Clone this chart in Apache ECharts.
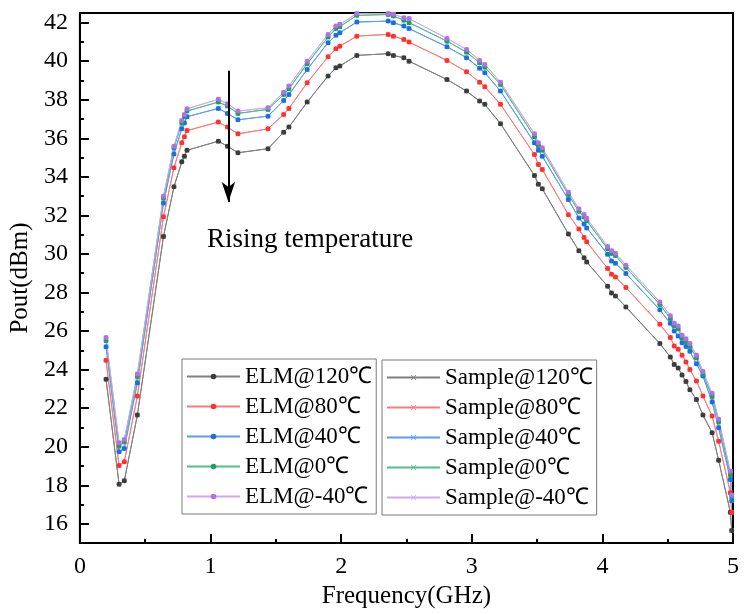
<!DOCTYPE html>
<html>
<head>
<meta charset="utf-8">
<script src="https://cdn.jsdelivr.net/npm/echarts@6/dist/echarts.min.js"></script>
<style>
html,body{margin:0;padding:0;background:#fff;}
#main{width:750px;height:614px;}
</style>
</head>
<body>
<div id="main"></div>
<script>
// Frequency points (GHz)
var freq = [0.20,0.30,0.34,0.44,0.64,0.72,0.78,0.80,0.82,1.06,1.13,1.21,1.44,1.56,1.60,1.74,1.90,1.96,1.99,2.12,2.36,2.40,2.48,2.52,2.81,2.96,3.06,3.10,3.22,3.48,3.51,3.54,3.74,3.82,3.86,3.88,4.04,4.07,4.10,4.18,4.44,4.52,4.55,4.58,4.61,4.64,4.67,4.72,4.77,4.84,4.89,4.98,4.99];

var elm120 = [23.50,18.05,18.23,21.64,30.91,33.48,34.78,35.07,35.38,35.85,35.59,35.25,35.46,36.32,36.58,37.88,39.23,39.66,39.75,40.30,40.39,40.30,40.18,40.00,39.05,38.45,37.93,37.76,36.76,34.07,33.62,33.38,31.04,30.17,29.80,29.58,28.33,27.98,27.82,27.25,25.35,24.66,24.27,24.08,23.72,23.38,22.95,22.45,21.64,20.73,19.30,16.60,15.65];
var elm80 = [24.48,19.03,19.22,22.63,31.93,34.47,35.77,36.08,36.40,36.84,36.58,36.23,36.49,37.24,37.55,38.88,40.23,40.65,40.78,41.30,41.39,41.30,41.13,40.99,40.04,39.45,38.91,38.68,37.76,35.16,34.64,34.38,32.04,31.29,30.86,30.63,29.25,28.95,28.81,28.26,26.35,25.66,25.23,25.05,24.75,24.40,24.00,23.41,22.63,21.59,20.29,17.61,16.60];
var elm40 = [25.19,19.74,19.91,23.32,32.64,35.19,36.49,36.80,37.12,37.55,37.29,36.96,37.15,37.96,38.27,39.57,40.96,41.34,41.48,42.03,42.08,42.00,41.82,41.69,40.75,40.18,39.63,39.40,38.45,35.77,35.38,35.07,32.82,31.87,31.55,31.35,29.99,29.64,29.52,28.99,27.10,26.40,26.00,25.75,25.40,25.20,24.95,24.30,23.67,22.32,20.99,18.30,17.20];
var elm0 = [25.50,20.03,20.24,23.64,32.90,35.50,36.80,37.12,37.41,37.88,37.67,37.29,37.50,38.27,38.57,39.87,41.25,41.69,41.79,42.38,42.42,42.34,42.13,42.00,41.04,40.47,39.92,39.69,38.79,36.08,35.63,35.38,33.08,32.22,31.92,31.73,30.27,30.03,29.92,29.30,27.38,26.65,26.27,26.12,25.64,25.45,25.20,24.62,23.75,22.60,21.30,18.55,17.40];
var elmM40 = [25.66,20.20,20.38,23.77,33.00,35.59,36.92,37.24,37.53,38.02,37.79,37.41,37.58,38.39,38.71,40.00,41.39,41.82,41.91,42.48,42.47,42.43,42.26,42.21,41.18,40.61,40.04,39.83,38.91,36.23,35.77,35.51,33.20,32.34,32.05,31.85,30.39,30.16,30.04,29.42,27.51,26.79,26.40,26.26,25.78,25.60,25.35,24.75,23.90,22.77,21.42,18.73,17.50];

// Measured samples (overlap the ELM curves)
var sample120 = [23.50,18.05,18.23,21.64,30.91,33.48,34.78,35.07,35.38,35.85,35.59,35.25,35.46,36.32,36.58,37.88,39.23,39.66,39.75,40.30,40.39,40.30,40.18,40.00,39.05,38.45,37.93,37.76,36.76,34.07,33.62,33.38,31.04,30.17,29.80,29.58,28.33,27.98,27.82,27.25,25.35,24.66,24.27,24.08,23.72,23.38,22.95,22.45,21.64,20.73,19.30,16.60,15.65];
var sample80 = [24.48,19.03,19.22,22.63,31.93,34.47,35.77,36.08,36.40,36.84,36.58,36.23,36.49,37.24,37.55,38.88,40.23,40.65,40.78,41.30,41.39,41.30,41.13,40.99,40.04,39.45,38.91,38.68,37.76,35.16,34.64,34.38,32.04,31.29,30.86,30.63,29.25,28.95,28.81,28.26,26.35,25.66,25.23,25.05,24.75,24.40,24.00,23.41,22.63,21.59,20.29,17.61,16.60];
var sample40 = [25.19,19.74,19.91,23.32,32.64,35.19,36.49,36.80,37.12,37.55,37.29,36.96,37.15,37.96,38.27,39.57,40.96,41.34,41.48,42.03,42.08,42.00,41.82,41.69,40.75,40.18,39.63,39.40,38.45,35.77,35.38,35.07,32.82,31.87,31.55,31.35,29.99,29.64,29.52,28.99,27.10,26.40,26.00,25.75,25.40,25.20,24.95,24.30,23.67,22.32,20.99,18.30,17.20];
var sample0 = [25.50,20.03,20.24,23.64,32.90,35.50,36.80,37.12,37.41,37.88,37.67,37.29,37.50,38.27,38.57,39.87,41.25,41.69,41.79,42.38,42.42,42.34,42.13,42.00,41.04,40.47,39.92,39.69,38.79,36.08,35.63,35.38,33.08,32.22,31.92,31.73,30.27,30.03,29.92,29.30,27.38,26.65,26.27,26.12,25.64,25.45,25.20,24.62,23.75,22.60,21.30,18.55,17.40];
var sampleM40 = [25.66,20.20,20.38,23.77,33.00,35.59,36.92,37.24,37.53,38.02,37.79,37.41,37.58,38.39,38.71,40.00,41.39,41.82,41.91,42.48,42.47,42.43,42.26,42.21,41.18,40.61,40.04,39.83,38.91,36.23,35.77,35.51,33.20,32.34,32.05,31.85,30.39,30.16,30.04,29.42,27.51,26.79,26.40,26.26,25.78,25.60,25.35,24.75,23.90,22.77,21.42,18.73,17.50];

var elmNames = ['ELM@120℃','ELM@80℃','ELM@40℃','ELM@0℃','ELM@-40℃'];
var sampleNames = ['Sample@120℃','Sample@80℃','Sample@40℃','Sample@0℃','Sample@-40℃'];
var yTicks = [16,18,20,22,24,26,28,30,32,34,36,38,40,42];
var yMinorTicks = [17,19,21,23,25,27,29,31,33,35,37,39,41];
var annotationText = 'Rising temperature';

var markerColors = ['#3c3c3c','#ff3030','#1a6fe0','#1d9e62','#b36fe6'];
var lineColors = ['#808080','#ff7a7a','#5c9cf0','#4fbf8a','#d2a6f2'];
var crossPath = 'path://M0,1L1,0L5,4L9,0L10,1L6,5L10,9L9,10L5,6L1,10L0,9L4,5Z';

function pairs(vals){ return freq.map(function(f,i){ return [f, vals[i]]; }); }

var elmData = [elm120, elm80, elm40, elm0, elmM40];
var sampleData = [sample120, sample80, sample40, sample0, sampleM40];
var font = 'Liberation Serif, Times New Roman, serif';

var series = [];
sampleData.forEach(function(vals, k){
  series.push({
    name: sampleNames[k], type: 'line', data: pairs(vals),
    symbol: crossPath, symbolSize: 5, showSymbol: true,
    lineStyle: {color: lineColors[k], width: 1},
    itemStyle: {color: lineColors[k]},
    emphasis: {disabled: true}, animation: false
  });
});
elmData.forEach(function(vals, k){
  var s = {
    name: elmNames[k], type: 'line', data: pairs(vals),
    symbol: 'circle', symbolSize: 5, showSymbol: true,
    lineStyle: {color: lineColors[k], width: 1},
    itemStyle: {color: markerColors[k]},
    emphasis: {disabled: true}, animation: false
  };
  if (k === 4) {
    s.markLine = {
      silent: true, animation: false,
      symbol: ['none','arrow'], symbolSize: [10, 20],
      label: {show: false},
      lineStyle: {color: '#000', width: 2, type: 'solid'},
      data: [[{coord: [1.137, 39.5]}, {coord: [1.137, 32.7]}]]
    };
  }
  series.push(s);
});

var legendCommon = {
  orient: 'vertical', itemWidth: 53, itemHeight: 7, itemGap: 7,
  textStyle: {fontFamily: font, fontSize: 23, color: '#000', lineHeight: 22},
  borderColor: '#7a7a7a', borderWidth: 1, backgroundColor: '#fff',
  padding: [6, 4, 6, 4], selectedMode: false
};

var chart = echarts.init(document.getElementById('main'), null, {renderer: 'canvas'});
chart.setOption({
  animation: false,
  backgroundColor: '#fff',
  grid: {left: 79, right: 17, top: 13, bottom: 70, show: true, borderColor: '#000', borderWidth: 2, backgroundColor: 'transparent'},
  xAxis: {
    type: 'value', min: 0, max: 5, interval: 1,
    name: 'Frequency(GHz)', nameLocation: 'middle', nameGap: 35,
    nameTextStyle: {fontFamily: font, fontSize: 25, color: '#000'},
    axisLine: {show: true, lineStyle: {color: '#000', width: 2}},
    axisTick: {show: true, inside: true, length: 9, lineStyle: {color: '#000', width: 2}},
    minorTick: {show: true, splitNumber: 2, length: 4, lineStyle: {color: '#000', width: 2}},
    axisLabel: {fontFamily: font, fontSize: 24, color: '#000', margin: 12},
    splitLine: {show: false}
  },
  yAxis: [{
    type: 'value', min: 15, max: 42.5, position: 'left',
    name: 'Pout(dBm)', nameLocation: 'middle', nameGap: 46,
    nameTextStyle: {fontFamily: font, fontSize: 25, color: '#000'},
    axisLine: {show: true, lineStyle: {color: '#000', width: 2}},
    axisTick: {show: true, inside: true, length: 9, customValues: yTicks, lineStyle: {color: '#000', width: 2}},
    axisLabel: {fontFamily: font, fontSize: 24, color: '#000', margin: 12, customValues: yTicks},
    splitLine: {show: false}
  }, {
    type: 'value', min: 15, max: 42.5, position: 'left', offset: 0,
    axisLine: {show: false},
    axisTick: {show: true, inside: true, length: 4, customValues: yMinorTicks, lineStyle: {color: '#000', width: 2}},
    axisLabel: {show: false},
    splitLine: {show: false}
  }],
  legend: [
    Object.assign({}, legendCommon, {data: elmNames, left: 182, top: 359}),
    Object.assign({}, legendCommon, {data: sampleNames, left: 382, top: 360})
  ],
  graphic: [{
    type: 'text', left: 207, top: 226,
    style: {text: annotationText, font: '27px ' + font, fill: '#000'}
  }],
  series: series
});
</script>
</body>
</html>
